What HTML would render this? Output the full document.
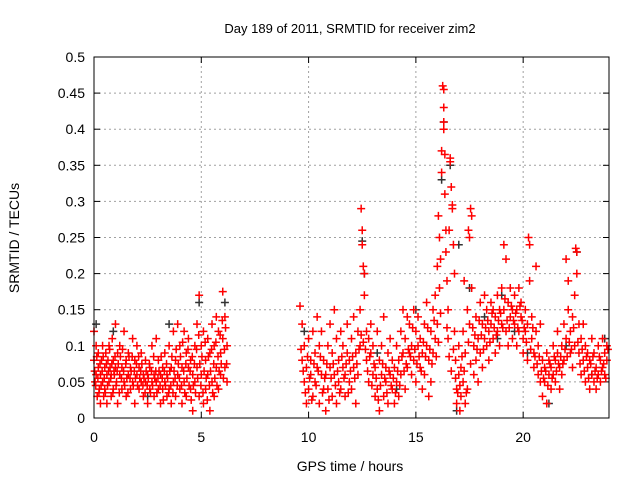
<!DOCTYPE html>
<html><head><meta charset="utf-8"><style>
body{margin:0;background:#fff}
svg{display:block;font-family:"Liberation Sans",sans-serif}
</style></head><body>
<svg id="chart" width="640" height="480">
<text x="350" y="33" font-size="13" text-anchor="middle">Day 189 of 2011, SRMTID for receiver zim2</text>
<text x="350" y="471" font-size="14" text-anchor="middle">GPS time / hours</text>
<text transform="translate(19,238) rotate(-90)" font-size="14" text-anchor="middle">SRMTID / TECUs</text>
<g id="grid"></g><g id="ticks"></g><g id="marks"></g>
<rect x="94" y="57" width="515" height="361" fill="none" stroke="#000" stroke-width="1"/>
</svg>
<script>
const xTicks=[0,5,10,15,20];
const yTicks=[0,0.05,0.1,0.15,0.2,0.25,0.3,0.35,0.4,0.45,0.5];
const yTickLabels=["0","0.05","0.1","0.15","0.2","0.25","0.3","0.35","0.4","0.45","0.5"];
const blackPoints=[[0.1,0.13],[0.9,0.12],[4.9,0.16],[6.1,0.16],[9.8,0.12],[12.5,0.245],[12.6,0.2],[13.2,0.09],[15.0,0.15],[16.2,0.33],[16.3,0.41],[16.6,0.35],[17.0,0.24],[17.5,0.18],[18.2,0.14],[19.0,0.17],[19.6,0.12],[20.2,0.09],[21.2,0.02],[22.0,0.1],[22.5,0.23],[23.2,0.06],[23.8,0.11],[2.5,0.03],[3.5,0.13],[14.1,0.04],[16.9,0.01],[18.8,0.11]];
const redPoints=[
[0.0,0.12],[0.0,0.08],[0.05,0.05],[0.1,0.1],[0.1,0.06],[0.15,0.03],[0.2,0.07],[0.2,0.09],[0.25,0.04],[0.3,0.02],[0.3,0.06],[0.35,0.08],[0.4,0.05],[0.4,0.1],[0.45,0.03],[0.5,0.07],[0.5,0.04],[0.55,0.09],[0.6,0.06],[0.6,0.02],[0.65,0.08],[0.7,0.1],[0.7,0.05],[0.75,0.07],[0.8,0.03],[0.8,0.06],[0.85,0.11],[0.9,0.08],[0.9,0.04],[0.95,0.06],[1.0,0.13],[1.0,0.07],[1.05,0.05],[1.1,0.02],[1.1,0.09],[1.2,0.06],[1.2,0.1],[1.3,0.04],[1.3,0.07],[1.4,0.12],[1.4,0.05],[1.5,0.08],[1.5,0.03],[1.6,0.06],[1.6,0.09],[1.7,0.04],[1.7,0.07],[1.8,0.11],[1.8,0.05],[1.9,0.08],[1.9,0.02],[2.0,0.06],[2.0,0.1],[2.1,0.04],[2.1,0.07],[2.2,0.05],[2.2,0.09],[2.3,0.03],[2.3,0.06],[2.4,0.05],[2.4,0.08],[2.5,0.02],[2.5,0.06],[2.6,0.04],[2.6,0.07],[2.7,0.1],[2.7,0.05],[2.8,0.03],[2.8,0.06],[2.9,0.11],[2.9,0.05],[3.0,0.08],[3.0,0.04],[3.1,0.06],[3.1,0.02],[3.2,0.07],[3.2,0.04],[3.3,0.09],[3.3,0.05],[3.4,0.03],[3.4,0.06],[3.5,0.1],[3.5,0.04],[3.6,0.07],[3.6,0.02],[3.7,0.12],[3.7,0.05],[3.8,0.08],[3.8,0.03],[3.9,0.13],[3.9,0.06],[4.0,0.1],[4.0,0.04],[4.1,0.07],[4.1,0.02],[4.2,0.12],[4.2,0.05],[4.3,0.09],[4.3,0.03],[4.4,0.07],[4.4,0.11],[4.5,0.04],[4.5,0.08],[4.6,0.06],[4.6,0.01],[4.7,0.1],[4.7,0.05],[4.8,0.13],[4.8,0.07],[4.9,0.17],[4.9,0.03],[5.0,0.1],[5.0,0.06],[5.1,0.02],[5.1,0.12],[5.2,0.08],[5.2,0.04],[5.3,0.11],[5.3,0.06],[5.4,0.01],[5.4,0.09],[5.5,0.13],[5.5,0.05],[5.6,0.1],[5.6,0.03],[5.7,0.14],[5.7,0.07],[5.8,0.12],[5.8,0.04],[5.9,0.09],[5.9,0.06],[6.0,0.175],[6.0,0.11],[6.1,0.07],[6.1,0.14],[6.2,0.05],[6.2,0.1],
[9.6,0.155],[9.7,0.13],[9.7,0.08],[9.8,0.05],[9.8,0.1],[9.9,0.02],[9.9,0.07],[10.0,0.11],[10.0,0.04],[10.1,0.08],[10.1,0.06],[10.2,0.12],[10.2,0.03],[10.3,0.09],[10.3,0.05],[10.4,0.14],[10.4,0.07],[10.5,0.02],[10.5,0.1],[10.6,0.06],[10.6,0.12],[10.7,0.04],[10.7,0.08],[10.8,0.01],[10.8,0.06],[10.9,0.1],[10.9,0.04],[11.0,0.13],[11.0,0.07],[11.1,0.03],[11.1,0.09],[11.2,0.15],[11.2,0.06],[11.3,0.11],[11.3,0.02],[11.4,0.08],[11.4,0.05],[11.5,0.12],[11.5,0.04],[11.6,0.07],[11.6,0.1],[11.7,0.03],[11.7,0.06],[11.8,0.09],[11.8,0.13],[11.9,0.05],[11.9,0.08],[12.0,0.11],[12.0,0.04],[12.1,0.07],[12.1,0.14],[12.2,0.02],[12.2,0.09],[12.3,0.12],[12.3,0.06],[12.4,0.1],[12.4,0.15],[12.45,0.29],[12.5,0.26],[12.5,0.24],[12.55,0.21],[12.6,0.2],[12.6,0.17],[12.7,0.12],[12.7,0.08],[12.8,0.11],[12.8,0.05],[12.9,0.09],[12.9,0.13],[13.0,0.06],[13.0,0.1],[13.1,0.03],[13.1,0.07],[13.2,0.12],[13.2,0.04],[13.3,0.08],[13.3,0.01],[13.4,0.06],[13.4,0.1],[13.5,0.03],[13.5,0.14],[13.6,0.07],[13.6,0.05],[13.7,0.02],[13.7,0.09],[13.8,0.06],[13.8,0.11],[13.9,0.04],[13.9,0.08],[14.0,0.07],[14.0,0.02],[14.1,0.05],[14.1,0.1],[14.2,0.03],[14.2,0.08],[14.3,0.06],[14.3,0.12],[14.4,0.09],[14.4,0.15],[14.5,0.04],[14.5,0.11],[14.6,0.07],[14.6,0.14],[14.7,0.09],[14.7,0.13],[14.8,0.06],[14.8,0.1],[14.9,0.15],[14.9,0.08],[15.0,0.12],[15.0,0.05],[15.1,0.1],[15.1,0.14],[15.2,0.07],[15.2,0.11],[15.3,0.09],[15.3,0.04],[15.4,0.13],[15.4,0.06],[15.5,0.1],[15.5,0.16],[15.6,0.08],[15.6,0.03],[15.7,0.12],[15.7,0.05],[15.8,0.15],[15.8,0.09],[15.9,0.17],[15.9,0.11],[16.0,0.13],[16.0,0.21],[16.05,0.28],[16.1,0.25],[16.1,0.18],[16.15,0.22],[16.2,0.37],[16.2,0.34],[16.25,0.46],[16.3,0.455],[16.3,0.43],[16.3,0.41],[16.3,0.4],[16.35,0.365],[16.35,0.31],[16.4,0.26],[16.4,0.23],[16.45,0.19],[16.5,0.15],[16.5,0.11],[16.55,0.26],[16.6,0.36],[16.6,0.355],[16.65,0.32],[16.7,0.295],[16.7,0.29],[16.75,0.24],[16.8,0.2],[16.8,0.12],[16.85,0.08],[16.9,0.04],[16.9,0.02],[17.0,0.06],[17.0,0.1],[17.05,0.01],[17.1,0.03],[17.1,0.07],[17.2,0.05],[17.2,0.12],[17.25,0.19],[17.3,0.02],[17.3,0.09],[17.4,0.15],[17.4,0.04],[17.45,0.26],[17.5,0.25],[17.5,0.13],[17.55,0.29],[17.6,0.28],[17.6,0.18],[17.7,0.1],[17.7,0.06],[17.8,0.14],[17.8,0.08],[17.9,0.05],[17.9,0.11],[18.0,0.16],[18.0,0.09],[18.1,0.13],[18.1,0.07],[18.2,0.11],[18.2,0.17],[18.3,0.15],[18.3,0.1],[18.4,0.12],[18.4,0.08],[18.5,0.16],[18.5,0.13],[18.6,0.11],[18.6,0.15],[18.7,0.09],[18.7,0.14],[18.8,0.12],[18.8,0.17],[18.9,0.15],[18.9,0.1],[19.0,0.13],[19.0,0.18],[19.1,0.15],[19.1,0.24],[19.2,0.22],[19.2,0.12],[19.3,0.16],[19.3,0.1],[19.4,0.14],[19.4,0.18],[19.5,0.11],[19.5,0.15],[19.6,0.17],[19.6,0.13],[19.7,0.1],[19.7,0.15],[19.8,0.12],[19.8,0.18],[19.9,0.14],[19.9,0.16],[20.0,0.11],[20.0,0.09],[20.1,0.15],[20.1,0.12],[20.2,0.08],[20.2,0.13],[20.25,0.25],[20.3,0.24],[20.3,0.19],[20.4,0.11],[20.4,0.14],[20.5,0.07],[20.5,0.09],[20.6,0.21],[20.6,0.12],[20.7,0.06],[20.7,0.1],[20.8,0.13],[20.8,0.05],[20.9,0.08],[20.9,0.03],[21.0,0.07],[21.0,0.05],[21.1,0.09],[21.1,0.02],[21.2,0.06],[21.2,0.08],[21.3,0.04],[21.3,0.07],[21.4,0.1],[21.4,0.06],[21.5,0.08],[21.5,0.05],[21.6,0.12],[21.6,0.09],[21.7,0.07],[21.7,0.04],[21.8,0.1],[21.8,0.06],[21.9,0.13],[21.9,0.08],[22.0,0.11],[22.0,0.22],[22.1,0.19],[22.1,0.15],[22.2,0.12],[22.2,0.09],[22.3,0.14],[22.3,0.07],[22.4,0.1],[22.4,0.17],[22.45,0.235],[22.5,0.23],[22.5,0.2],[22.6,0.13],[22.6,0.09],[22.7,0.11],[22.7,0.06],[22.8,0.08],[22.8,0.13],[22.9,0.05],[22.9,0.1],[23.0,0.07],[23.0,0.09],[23.1,0.04],[23.1,0.08],[23.2,0.06],[23.2,0.11],[23.3,0.05],[23.3,0.09],[23.4,0.07],[23.4,0.04],[23.5,0.1],[23.5,0.06],[23.6,0.08],[23.6,0.05],[23.7,0.11],[23.7,0.07],[23.8,0.09],[23.8,0.06],[23.9,0.1],[23.9,0.08]];
const redPointsExtra=[
[0.03,0.065],[0.08,0.045],[0.13,0.085],[0.18,0.055],[0.23,0.035],[0.28,0.075],[0.33,0.045],[0.38,0.065],[0.43,0.085],[0.48,0.055],[0.53,0.035],[0.58,0.075],[0.63,0.045],[0.68,0.065],[0.73,0.095],[0.78,0.055],[0.83,0.075],[0.88,0.035],[0.93,0.065],[0.98,0.085],[1.03,0.045],[1.08,0.065],[1.13,0.075],[1.18,0.035],[1.23,0.085],[1.28,0.055],[1.33,0.095],[1.38,0.065],[1.43,0.045],[1.48,0.075],[1.53,0.055],[1.58,0.035],[1.63,0.085],[1.68,0.055],[1.73,0.065],[1.78,0.085],[1.83,0.045],[1.88,0.065],[1.93,0.055],[1.98,0.075],[2.03,0.045],[2.08,0.085],[2.13,0.055],[2.18,0.065],[2.23,0.075],[2.28,0.045],[2.33,0.055],[2.38,0.035],[2.43,0.065],[2.48,0.045],[2.53,0.055],[2.58,0.075],[2.63,0.035],[2.68,0.065],[2.73,0.045],[2.78,0.085],[2.83,0.055],[2.88,0.065],[2.93,0.035],[2.98,0.055],[3.03,0.065],[3.08,0.045],[3.13,0.085],[3.18,0.055],[3.23,0.025],[3.28,0.065],[3.33,0.045],[3.38,0.075],[3.43,0.055],[3.48,0.035],[3.53,0.065],[3.58,0.045],[3.63,0.085],[3.68,0.035],[3.73,0.065],[3.78,0.055],[3.83,0.095],[3.88,0.045],[3.93,0.075],[3.98,0.055],[4.03,0.085],[4.08,0.045],[4.13,0.105],[4.18,0.065],[4.23,0.035],[4.28,0.075],[4.33,0.055],[4.38,0.095],[4.43,0.045],[4.48,0.065],[4.53,0.025],[4.58,0.085],[4.63,0.045],[4.68,0.075],[4.73,0.035],[4.78,0.095],[4.83,0.055],[4.88,0.115],[4.93,0.075],[4.98,0.045],[5.03,0.085],[5.08,0.035],[5.13,0.065],[5.18,0.105],[5.23,0.055],[5.28,0.025],[5.33,0.085],[5.38,0.045],[5.43,0.065],[5.48,0.095],[5.53,0.035],[5.58,0.075],[5.63,0.055],[5.68,0.105],[5.73,0.045],[5.78,0.085],[5.83,0.065],[5.88,0.115],[5.93,0.075],[5.98,0.135],[6.03,0.055],[6.08,0.095],[6.13,0.125],[6.18,0.075],
[9.65,0.095],[9.75,0.065],[9.85,0.035],[9.95,0.085],[10.05,0.055],[10.15,0.025],[10.25,0.075],[10.35,0.045],[10.45,0.065],[10.55,0.085],[10.65,0.035],[10.75,0.055],[10.85,0.075],[10.95,0.025],[11.05,0.055],[11.15,0.075],[11.25,0.045],[11.35,0.065],[11.45,0.035],[11.55,0.085],[11.65,0.055],[11.75,0.075],[11.85,0.035],[11.95,0.065],[12.05,0.085],[12.15,0.055],[12.25,0.075],[12.35,0.095],[12.45,0.115],[12.55,0.105],[12.65,0.095],[12.75,0.065],[12.85,0.085],[12.95,0.045],[13.05,0.075],[13.15,0.055],[13.25,0.025],[13.35,0.045],[13.45,0.075],[13.55,0.055],[13.65,0.035],[13.75,0.065],[13.85,0.045],[13.95,0.055],[14.05,0.035],[14.15,0.065],[14.25,0.045],[14.35,0.085],[14.45,0.065],[14.55,0.075],[14.65,0.095],[14.75,0.085],[14.85,0.125],[14.95,0.095],[15.05,0.075],[15.15,0.085],[15.25,0.065],[15.35,0.105],[15.45,0.085],[15.55,0.125],[15.65,0.095],[15.75,0.075],[15.85,0.135],[15.95,0.085],[16.05,0.105],[16.15,0.145],[16.45,0.125],[16.55,0.085],[16.65,0.065],[16.75,0.095],[16.85,0.055],[16.95,0.035],[17.05,0.045],[17.15,0.085],[17.25,0.065],[17.35,0.035],[17.45,0.105],[17.55,0.075],[17.65,0.125],[17.75,0.115],[17.85,0.095],[17.95,0.135],[18.05,0.115],[18.15,0.095],[18.25,0.125],[18.35,0.135],[18.45,0.105],[18.55,0.145],[18.65,0.125],[18.75,0.115],[18.85,0.135],[18.95,0.145],[19.05,0.125],[19.15,0.165],[19.25,0.135],[19.35,0.125],[19.45,0.155],[19.55,0.135],[19.65,0.145],[19.75,0.125],[19.85,0.155],[19.95,0.135],[20.05,0.125],[20.15,0.105],[20.35,0.095],[20.45,0.125],[20.55,0.085],[20.65,0.075],[20.75,0.085],[20.85,0.065],[20.95,0.055],[21.05,0.065],[21.15,0.045],[21.25,0.075],[21.35,0.055],[21.45,0.085],[21.55,0.065],[21.65,0.075],[21.75,0.085],[21.85,0.075],[21.95,0.095],[22.05,0.085],[22.15,0.105],[22.25,0.095],[22.35,0.125],[22.55,0.105],[22.65,0.075],[22.75,0.095],[22.85,0.065],[22.95,0.085],[23.05,0.055],[23.15,0.075],[23.25,0.085],[23.35,0.065],[23.45,0.055],[23.55,0.085],[23.65,0.065],[23.75,0.075],[23.85,0.055],[23.95,0.095]];
const NS='http://www.w3.org/2000/svg';
const X0=94,X1=609,Y0=418,Y1=57;
function xs(t){return X0+(t/24)*(X1-X0);}
function ys(v){return Y0-(v/0.5)*(Y0-Y1);}
function mk(tag,attrs){const e=document.createElementNS(NS,tag);for(const k in attrs)e.setAttribute(k,attrs[k]);return e;}
const grid=document.getElementById('grid'),ticks=document.getElementById('ticks'),marks=document.getElementById('marks');
yTicks.forEach((v,i)=>{
  const y=ys(v);
  if(i>0&&i<yTicks.length-1){const g=mk('line',{x1:X0,x2:X1,y1:y,y2:y,stroke:'#a0a0a0','stroke-dasharray':'2,3'});
  
  grid.appendChild(g);}
  ticks.appendChild(mk('line',{x1:X0,x2:X0+6,y1:y,y2:y,stroke:'#000'}));
  ticks.appendChild(mk('line',{x1:X1,x2:X1-6,y1:y,y2:y,stroke:'#000'}));
  const tx=mk('text',{x:X0-9,y:y+5,'font-size':14,'text-anchor':'end'});tx.textContent=yTickLabels[i];
  
  ticks.appendChild(tx);
});
xTicks.forEach(t=>{
  const x=xs(t);
  if(t>0){const g=mk('line',{x1:x,x2:x,y1:Y0,y2:Y1,stroke:'#a0a0a0','stroke-dasharray':'2,3'});
  
  grid.appendChild(g);}
  ticks.appendChild(mk('line',{x1:x,x2:x,y1:Y0,y2:Y0-6,stroke:'#000'}));
  ticks.appendChild(mk('line',{x1:x,x2:x,y1:Y1,y2:Y1+6,stroke:'#000'}));
  const tx=mk('text',{x:x,y:Y0+24,'font-size':14,'text-anchor':'middle'});tx.textContent=String(t);
  
  ticks.appendChild(tx);
});
function plus(p,color,name){
  const x=xs(p[0]),y=ys(p[1]);
  const e=mk('path',{d:`M${x-4},${y}H${x+4}M${x},${y-4}V${y+4}`,stroke:color,'stroke-width':1.5,fill:'none'});
  
  
  marks.appendChild(e);
}
blackPoints.forEach(p=>plus(p,'#333','black-point'));
redPoints.forEach(p=>plus(p,'#ff0000','red-point'));
redPointsExtra.forEach(p=>plus(p,'#ff0000','red-point'));
</script>
</body></html>
